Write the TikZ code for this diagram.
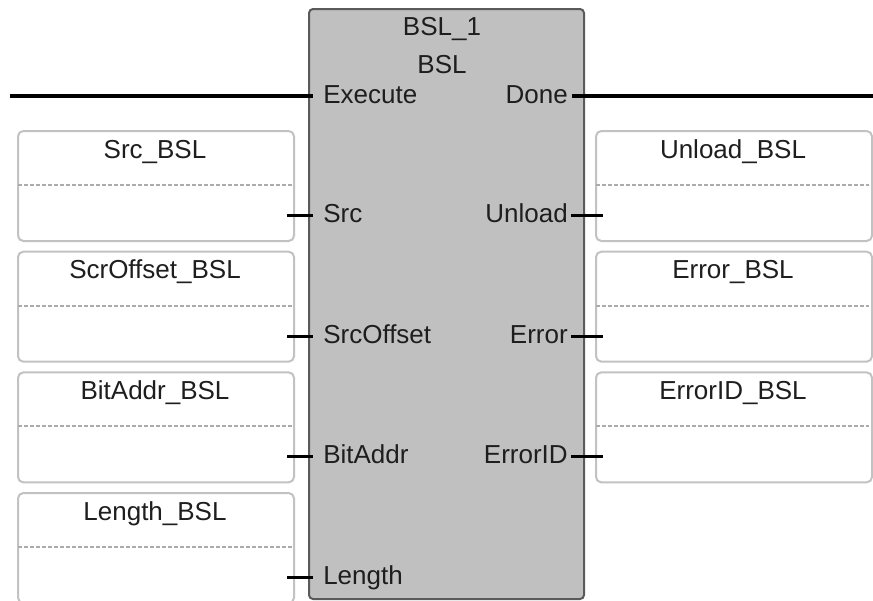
\documentclass[tikz,border=0pt]{standalone}
\usepackage{fontspec}
\setmainfont{Liberation Sans}
\usetikzlibrary{positioning}
\definecolor{fbfill}{HTML}{C0C0C0}
\definecolor{fbedge}{HTML}{5A5A5A}
\definecolor{varedge}{HTML}{C2C2C2}
\definecolor{sepgray}{HTML}{ABABAB}
\definecolor{txt}{HTML}{1E1E1E}
\tikzset{
  lbl/.style={font=\fontsize{19.5}{22}\selectfont, text=txt, inner sep=0pt},
  varbox/.style={draw=varedge, line width=1.5pt, rounded corners=4pt, fill=white,
    minimum width=207pt, minimum height=82.5pt, inner sep=0pt, anchor=north west},
  sepline/.style={sepgray, line width=1.4pt, dash pattern=on 3pt off 1.5pt},
  wire/.style={black, line width=2.3pt},
}
\begin{document}
\begin{tikzpicture}[x=0.75pt, y=-0.75pt]
    \useasboundingbox (0,0) rectangle (873,600);

    \def\pitch{120.67}

    % Khối chức năng BSL
    \node[draw=fbedge, fill=fbfill, line width=1.5pt, rounded corners=3pt, inner sep=0pt,
        minimum width=206.25pt, minimum height=442.5pt, anchor=north west] (fb) at (308,8) {};
    \node[lbl, anchor=base] (inst) at (442,35) {BSL\_1};
    \node[lbl, anchor=base] (type) at (442,73) {BSL};

    % Hộp biến đầu vào (bên trái)
    \foreach \name/\pin [count=\i from 0] in {Src\_BSL/Src, ScrOffset\_BSL/SrcOffset, BitAddr\_BSL/BitAddr, Length\_BSL/Length} {
        \pgfmathsetmacro{\top}{130+\pitch*\i}
        \node[varbox] (in\i) at (17,\top) {};
        \node[lbl, anchor=base] (intitle\i) at (155,\top+28) {\name};
        \draw[sepline] (18,\top+55) -- (292,\top+55);
        \coordinate (inpin\i) at (313,\top+85.5);
        \node[lbl, anchor=base west] (inlbl\i) at (323,\top+92.5) {\pin};
    }

    % Hộp biến đầu ra (bên phải)
    \foreach \name/\pin [count=\i from 0] in {Unload\_BSL/Unload, Error\_BSL/Error, ErrorID\_BSL/ErrorID} {
        \pgfmathsetmacro{\top}{130+\pitch*\i}
        \node[varbox] (out\i) at (595,\top) {};
        \node[lbl, anchor=base] (outtitle\i) at (733,\top+28) {\name};
        \draw[sepline] (596,\top+55) -- (869,\top+55);
        \coordinate (outpin\i) at (571,\top+85.5);
        \node[lbl, anchor=base east] (outlbl\i) at (568,\top+92.5) {\pin};
    }

    % Execute / Done
    \coordinate (exL) at (10,96);
    \coordinate (exP) at (313,96);
    \coordinate (dnP) at (572,96);
    \coordinate (dnR) at (873,96);
    \draw[wire] (exL) -- (exP);
    \draw[wire] (dnP) -- (dnR);
    \node[lbl, anchor=base west] (exec) at (323,103) {Execute};
    \node[lbl, anchor=base east] (done) at (568,103) {Done};

    % Các chân nối ngắn
    \foreach \i in {0,...,3}
        \draw[wire] ([xshift=-6pt]in\i.east |- inpin\i) -- (inpin\i);
    \foreach \i in {0,...,2}
        \draw[wire] (outpin\i) -- ([xshift=6pt]out\i.west |- outpin\i);
\end{tikzpicture}
\end{document}
